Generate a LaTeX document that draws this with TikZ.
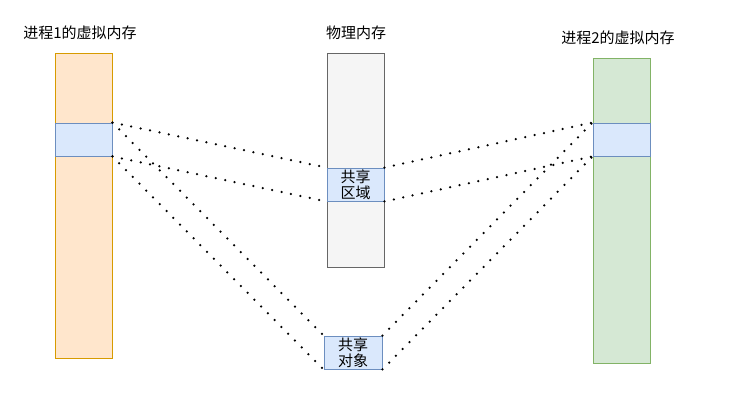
\documentclass[tikz,border=0pt]{standalone}
\usepackage{fontspec}
\newfontfamily\cjk{Noto Sans CJK SC}
\tikzset{
  membar/.style={draw, rectangle, inner sep=0pt, minimum width=57pt, line width=0.9pt},
  sharebox/.style={draw=blue!45!gray!80, fill=blue!15!cyan!8, rectangle, inner sep=0pt, minimum width=57pt, minimum height=33pt, line width=0.9pt, align=center, font=\cjk\fontsize{15pt}{16.5pt}\selectfont},
  title/.style={font=\cjk\fontsize{15pt}{16pt}\selectfont, inner sep=0pt},
  link/.style={line width=2.5pt, line cap=round, dash pattern=on 0pt off 9.6pt}
}
\definecolor{orangefill}{HTML}{FFE6CC}
\definecolor{orangeline}{HTML}{D79B00}
\definecolor{greyfill}{HTML}{F5F5F5}
\definecolor{greyline}{HTML}{666666}
\definecolor{greenfill}{HTML}{D5E8D4}
\definecolor{greenline}{HTML}{82B366}
\definecolor{bluefill}{HTML}{DAE8FC}
\definecolor{blueline}{HTML}{6C8EBF}
\begin{document}
\begin{tikzpicture}[x=1pt, y=-1pt]
  \useasboundingbox (0,0) rectangle (747,404);
  \node[membar, draw=orangeline, fill=orangefill, minimum height=305pt] (vm1) at (83.5,205.5) {};
  \node[membar, draw=greyline, fill=greyfill, minimum height=214pt] (phys) at (355.5,160) {};
  \node[membar, draw=greenline, fill=greenfill, minimum height=305pt] (vm2) at (621.5,210.5) {};
  \node[sharebox, draw=blueline, fill=bluefill] (seg1) at (83.5,139.5) {};
  \node[sharebox, draw=blueline, fill=bluefill] (seg2) at (621.5,139.5) {};
  \node[sharebox, draw=blueline, fill=bluefill] (region) at (355.5,184.5) {共享\\区域};
  \node[sharebox, draw=blueline, fill=bluefill, minimum width=58pt] (object) at (353,352.5) {共享\\对象};
  \node[title] (t1) at (80,33) {进程1的虚拟内存};
  \node[title] (t0) at (356,33) {物理内存};
  \node[title] (t2) at (618,38) {进程2的虚拟内存};
  \draw[link] (seg1.north east) -- (region.north west);
  \draw[link] (seg1.south east) -- (region.south west);
  \draw[link] (seg1.north east) -- (object.north west);
  \draw[link] (seg1.south east) -- (object.south west);
  \draw[link] (region.north east) -- (seg2.north west);
  \draw[link] (region.south east) -- (seg2.south west);
  \draw[link] (object.north east) -- (seg2.north west);
  \draw[link] (object.south east) -- (seg2.south west);
\end{tikzpicture}
\end{document}
